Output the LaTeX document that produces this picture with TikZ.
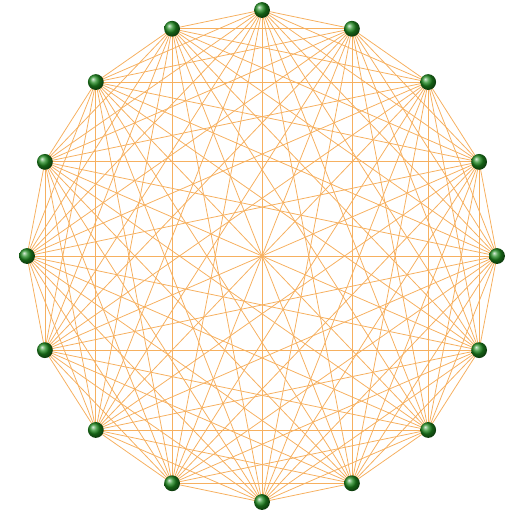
\documentclass[tikz,border=0pt]{standalone}
\usepackage{xcolor}
\usepackage{tikz}
\usetikzlibrary{backgrounds}
\definecolor{edge}{HTML}{F6B060}
\definecolor{vert}{HTML}{1F8A1F}
\tikzset{
  vertex/.style={circle, shading=ball, ball color=vert, minimum size=9pt, inner sep=0pt},
  link/.style={draw=edge, line width=0.45pt},
}
\begin{document}
\begin{tikzpicture}[x=0.02cm, y=-0.02cm]
  \useasboundingbox (0,0) rectangle (516,515);
  % vertices
  \foreach \i in {0,...,15}
    \node[vertex] (v\i) at ({262+235*sin(22.5*\i)},{256-246*cos(22.5*\i)}) {};
  % edges of the complete graph
  \begin{scope}[on background layer]
    \foreach \i in {0,...,14} {
      \pgfmathtruncatemacro\nxt{\i+1}
      \foreach \j in {\nxt,...,15}
        \draw[link] (v\i.center) -- (v\j.center);
    }
  \end{scope}
\end{tikzpicture}
\end{document}
